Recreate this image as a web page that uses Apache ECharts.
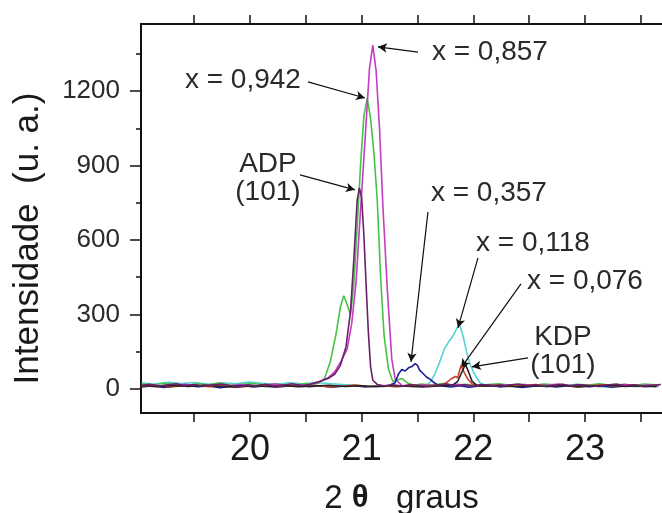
<!DOCTYPE html>
<html>
<head>
<meta charset="utf-8">
<script src="https://cdn.jsdelivr.net/npm/echarts@6/dist/echarts.min.js"></script>
<style>html,body{margin:0;padding:0;background:#fff}#c{width:662px;height:513px}</style>
</head>
<body>
<div id="c"></div>
<script>
// ---- data (2theta in degrees, intensity in a.u.) ----
const xTickLabels = [20, 21, 22, 23];
const xTicks = [19.5, 20, 20.5, 21, 21.5, 22, 22.5, 23, 23.5];
const yTickLabels = [0, 300, 600, 900, 1200];
const yMinorTicks = [150, 450, 750, 1050, 1350];

const seriesNames = ['x = 0,118', 'x = 0,942', 'x = 0,857', 'x = 0,357', 'x = 0,076', 'KDP (101)', 'ADP (101)'];

const cyan118 = [[19.03,24],[19.15,20],[19.27,27],[19.39,22],[19.51,26],[19.63,19],[19.75,25],[19.87,21],[19.99,28],[20.11,23],[20.23,19],[20.35,25],[20.47,21],[20.59,26],[20.71,22],[20.83,18],[20.95,14],[21.07,10],[21.19,13],[21.31,9],[21.43,12],[21.53,10],
  [21.58,14],[21.62,30],[21.66,65],[21.7,110],[21.74,160],[21.78,190],[21.82,215],[21.86,250],[21.88,255],[21.91,210],[21.94,150],[21.97,100],[22.0,70],[22.03,45],[22.06,25],[22.1,14],
  [22.16,12],[22.26,8],[22.36,13],[22.46,10],[22.56,14],[22.66,9],[22.76,12],[22.86,15],[22.96,10],[23.06,13],[23.16,8],[23.26,12],[23.36,14],[23.46,9],[23.56,13],[23.66,10]];

const green942 = [[19.03,20],[19.13,16],[19.23,23],[19.33,18],[19.43,14],[19.53,21],[19.63,17],[19.73,24],[19.83,15],[19.93,19],[20.03,22],[20.13,16],[20.23,20],[20.33,14],[20.43,18],[20.5,22],
  [20.56,18],[20.62,24],[20.67,45],[20.72,110],[20.77,220],[20.81,330],[20.84,375],[20.87,340],[20.9,300],[20.93,420],[20.96,650],[20.99,900],[21.02,1100],[21.05,1170],[21.08,1090],[21.11,950],[21.14,760],[21.17,450],[21.2,220],[21.24,80],[21.28,30],[21.32,36],[21.36,42],[21.41,24],
  [21.47,14],[21.53,20],[21.63,16],[21.73,22],[21.83,15],[21.93,19],[22.03,13],[22.13,18],[22.23,21],[22.33,15],[22.43,19],[22.53,14],[22.63,20],[22.73,17],[22.83,13],[22.93,19],[23.03,16],[23.13,21],[23.23,15],[23.33,18],[23.43,14],[23.53,20],[23.63,17]];

const magenta857 = [[19.03,12],[19.13,17],[19.23,10],[19.33,15],[19.43,19],[19.53,12],[19.63,16],[19.73,9],[19.83,14],[19.93,18],[20.03,11],[20.13,16],[20.23,20],[20.33,13],[20.43,17],[20.5,14],
  [20.55,20],[20.62,28],[20.7,45],[20.76,70],[20.82,115],[20.87,160],[20.91,260],[20.95,430],[20.99,720],[21.03,1000],[21.07,1290],[21.1,1385],[21.13,1280],[21.16,1050],[21.19,740],[21.23,400],[21.27,120],[21.3,40],
  [21.36,14],[21.46,10],[21.56,17],[21.66,12],[21.76,16],[21.86,19],[21.96,12],[22.06,16],[22.16,11],[22.26,17],[22.36,13],[22.46,18],[22.56,12],[22.66,15],[22.76,20],[22.86,13],[22.96,16],[23.06,11],[23.16,17],[23.26,14],[23.36,19],[23.46,12],[23.56,16],[23.66,13]];

const navy357 = [[19.03,8],[19.13,13],[19.23,6],[19.33,11],[19.43,15],[19.53,9],[19.63,12],[19.73,5],[19.83,10],[19.93,14],[20.03,8],[20.13,12],[20.23,7],[20.33,11],[20.43,15],[20.53,9],[20.63,13],[20.73,7],[20.83,11],[20.93,14],[21.03,8],[21.13,12],[21.2,10],
  [21.25,15],[21.3,25],[21.33,60],[21.36,78],[21.39,72],[21.42,85],[21.45,90],[21.48,102],[21.5,95],[21.52,75],[21.55,62],[21.58,48],[21.61,40],[21.64,28],[21.68,16],
  [21.72,12],[21.8,8],[21.88,13],[21.96,7],[22.04,11],[22.14,15],[22.24,9],[22.34,12],[22.44,6],[22.54,11],[22.64,14],[22.74,8],[22.84,12],[22.94,16],[23.04,9],[23.14,13],[23.24,7],[23.34,11],[23.44,15],[23.54,9],[23.64,12]];

const red076 = [[19.03,10],[19.15,14],[19.27,8],[19.39,12],[19.51,16],[19.63,9],[19.75,13],[19.87,7],[19.99,11],[20.11,15],[20.23,9],[20.35,13],[20.47,10],[20.59,14],[20.71,8],[20.83,12],[20.95,16],[21.07,10],[21.19,13],[21.31,9],[21.43,14],[21.55,11],[21.65,15],
  [21.7,14],[21.76,25],[21.8,40],[21.84,50],[21.86,45],[21.89,95],[21.92,65],[21.95,40],[21.99,20],[22.03,14],
  [22.08,12],[22.2,16],[22.32,10],[22.44,14],[22.56,18],[22.68,11],[22.8,15],[22.92,9],[23.04,13],[23.16,17],[23.28,11],[23.4,15],[23.52,10],[23.64,14]];

const kdp = [[19.03,13],[19.17,9],[19.31,14],[19.45,10],[19.59,15],[19.73,11],[19.87,8],[20.01,13],[20.15,10],[20.29,14],[20.43,9],[20.57,12],[20.71,15],[20.85,10],[20.99,13],[21.13,9],[21.27,14],[21.41,11],[21.55,8],[21.69,12],[21.77,14],
  [21.82,16],[21.86,30],[21.9,70],[21.93,100],[21.96,65],[21.99,30],[22.03,15],
  [22.1,11],[22.24,15],[22.38,9],[22.52,13],[22.66,10],[22.8,14],[22.94,8],[23.08,12],[23.22,15],[23.36,10],[23.5,13],[23.64,9]];

const adp = [[19.03,15],[19.1,19],[19.18,12],[19.26,17],[19.34,21],[19.42,13],[19.5,18],[19.58,11],[19.66,16],[19.74,20],[19.82,14],[19.9,9],[19.98,17],[20.06,13],[20.14,19],[20.22,12],[20.3,16],[20.38,21],[20.46,14],[20.54,19],
  [20.62,30],[20.7,42],[20.76,60],[20.81,95],[20.86,170],[20.9,310],[20.93,520],[20.96,760],[20.98,810],[21.0,770],[21.02,620],[21.04,420],[21.06,230],[21.08,90],[21.1,35],[21.14,18],
  [21.2,13],[21.28,17],[21.36,12],[21.44,18],[21.52,14],[21.6,10],[21.68,16],[21.76,20],[21.84,13],[21.92,17],[22.0,12],[22.08,18],[22.16,15],[22.24,10],[22.32,16],[22.4,20],[22.48,13],[22.56,17],[22.64,11],[22.72,15],[22.8,19],[22.88,12],[22.96,17],[23.04,14],[23.12,10],[23.2,16],[23.28,20],[23.36,13],[23.44,17],[23.52,12],[23.6,15],[23.68,18]];

const seriesData = [cyan118, green942, magenta857, navy357, red076, kdp, adp];
const seriesColors = ['#52d4d8', '#44c444', '#c43cc4', '#1e1e96', '#c8402c', '#222222', '#6a1f66'];

// annotation texts and arrows, in data coordinates
const annotationTexts = [
  {text: 'x = 0,942', at: [19.937, 1245]},
  {text: 'x = 0,857', at: [22.149, 1357]},
  {text: 'ADP\n(101)', at: [20.161, 850]},
  {text: 'x = 0,357', at: [22.140, 789]},
  {text: 'x = 0,118', at: [22.534, 588]},
  {text: 'x = 0,076', at: [23.000, 435]},
  {text: 'KDP\n(101)', at: [22.803, 153]}
];
const annotationArrows = [
  [[20.519, 1237], [21.030, 1172]],
  [[21.505, 1357], [21.146, 1378]],
  [[20.448, 862], [20.940, 802]],
  [[21.594, 713], [21.442, 109]],
  [[22.042, 528], [21.863, 246]],
  [[22.427, 423], [21.890, 85]],
  [[22.490, 125], [21.988, 89]]
];

const X_MIN = 19.024, X_MAX = 23.69, Y_MIN = -97, Y_MAX = 1470;
const FONT = 'Liberation Sans, Arial, sans-serif';

const chart = echarts.init(document.getElementById('c'), null, {renderer: 'canvas'});

const series = seriesData.map((d, i) => ({
  name: seriesNames[i],
  type: 'line',
  data: d,
  showSymbol: false,
  symbol: 'none',
  lineStyle: {color: seriesColors[i], width: 1.6},
  itemStyle: {color: seriesColors[i]},
  z: 2 + i,
  animation: false
}));
series.push({
  name: 'arrows',
  type: 'line',
  data: [],
  z: 20,
  animation: false,
  markLine: {
    silent: true,
    animation: false,
    symbol: ['none', 'arrow'],
    symbolSize: [7, 9],
    label: {show: false},
    lineStyle: {color: '#111', width: 1.2, type: 'solid'},
    data: annotationArrows.map(a => [{coord: a[0]}, {coord: a[1]}])
  }
});

const xAxisCommon = {
  type: 'value', min: X_MIN, max: X_MAX,
  axisLine: {show: true, onZero: false, lineStyle: {color: '#111', width: 2}},
  axisTick: {show: true, length: 9, inside: false, customValues: xTicks, lineStyle: {color: '#111', width: 1.5}},
  splitLine: {show: false}
};

chart.setOption({
  animation: false,
  backgroundColor: '#fff',
  grid: {left: 141, right: 0, top: 24, bottom: 100, containLabel: false, outerBoundsMode: 'none'},
  xAxis: [Object.assign({}, xAxisCommon, {
    position: 'bottom',
    axisLabel: {customValues: xTickLabels, margin: 19, fontSize: 36, fontFamily: FONT, color: '#1a1a1a'},
    name: '{a|2 }{b|θ}{a|   graus}',
    nameLocation: 'middle', nameGap: 69,
    nameTextStyle: {rich: {
      a: {fontSize: 33, fontFamily: FONT, color: '#1a1a1a'},
      b: {fontSize: 31, fontFamily: FONT, fontWeight: 'bold', color: '#1a1a1a'}
    }}
  }), Object.assign({}, xAxisCommon, {
    position: 'top',
    axisLabel: {show: false}
  })],
  yAxis: [{
    type: 'value', min: Y_MIN, max: Y_MAX, position: 'left',
    axisLine: {show: true, onZero: false, lineStyle: {color: '#111', width: 2}},
    axisTick: {show: true, length: 11, customValues: yTickLabels, lineStyle: {color: '#111', width: 1.5}},
    axisLabel: {customValues: yTickLabels, margin: 21, fontSize: 26, fontFamily: FONT, color: '#2a2a2a',
      formatter: v => String(v)},
    splitLine: {show: false},
    name: 'Intensidade  (u. a.)',
    nameLocation: 'middle', nameGap: 95, nameRotate: 90,
    nameTextStyle: {fontSize: 35, fontFamily: FONT, color: '#1a1a1a', padding: [0, 40, 0, 0]}
  }, {
    type: 'value', min: Y_MIN, max: Y_MAX, position: 'left',
    axisLine: {show: false, onZero: false},
    axisTick: {show: true, length: 5, customValues: yMinorTicks, lineStyle: {color: '#111', width: 1.5}},
    axisLabel: {show: false},
    splitLine: {show: false}
  }],
  series: series
});

const graphics = annotationTexts.map(t => {
  const p = chart.convertToPixel({gridIndex: 0}, t.at);
  return {
    type: 'text', x: p[0], y: p[1], z: 30,
    style: {text: t.text, fontSize: 28, fontFamily: FONT, fill: '#2a2a2a',
      align: 'center', verticalAlign: 'middle', lineHeight: 28}
  };
});
chart.setOption({graphic: graphics});
</script>
</body>
</html>
